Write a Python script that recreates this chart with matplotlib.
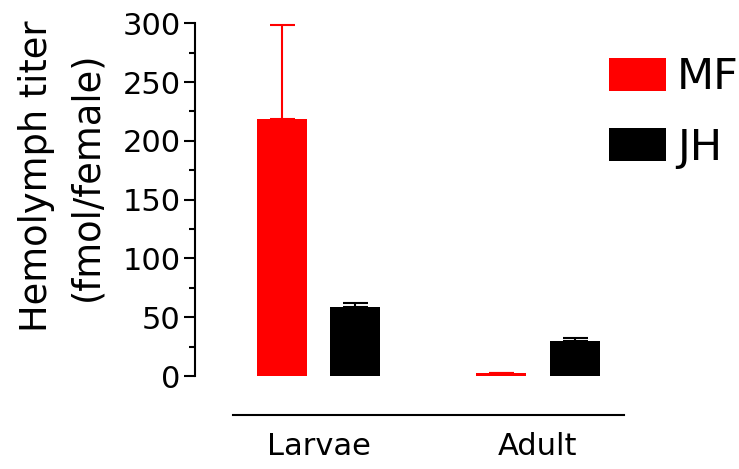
import numpy as np
import matplotlib.pyplot as plt

plt.rcParams['font.family'] = ['DejaVu Sans']

# hemolymph titers (fmol/female)
stages = ['Larvae', 'Adult']
mf_mean = [218.5, 2.8]
mf_err = [80.0, 0.0]
jh_mean = [59.0, 30.0]
jh_err = [3.0, 2.3]

fig = plt.figure(figsize=(7.39, 4.69), dpi=100)
ax = fig.add_axes([194.7 / 739, 93 / 469, (624 - 194.7) / 739, 352.7 / 469])

x = np.arange(len(stages))
w = 0.228
off = 0.1675

ax.bar(x - off, mf_mean, w, color='#ff0000', label='MF', zorder=2)
ax.bar(x + off, jh_mean, w, color='black', label='JH', zorder=2)
ax.errorbar(x - off, mf_mean, yerr=[np.zeros(2), mf_err], fmt='none',
            ecolor='#ff0000', elinewidth=1.5, capsize=9, capthick=1.5,
            clip_on=False, zorder=1)
ax.errorbar(x + off, jh_mean, yerr=[np.zeros(2), jh_err], fmt='none',
            ecolor='black', elinewidth=1.5, capsize=9, capthick=1.5,
            clip_on=False, zorder=1)

ax.set_xlim(-0.566, 1.393)
ax.set_ylim(0, 300)
ax.set_yticks(np.arange(0, 301, 50))
ax.set_yticks(np.arange(0, 301, 25), minor=True)
ax.set_xticks(x)
ax.set_xticklabels(stages)

for s in ['top', 'right']:
    ax.spines[s].set_visible(False)
ax.spines['left'].set_linewidth(1.5)
ax.spines['bottom'].set_linewidth(1.5)
ax.spines['bottom'].set_position(('outward', 28))
ax.spines['bottom'].set_bounds(-0.391, 1.393)

ax.tick_params(axis='y', which='major', length=8, width=1.5, labelsize=22, pad=2)
ax.tick_params(axis='y', which='minor', length=4, width=1.5)
ax.tick_params(axis='x', length=0, labelsize=22, pad=12)

fig.text(62 / 739, 1 - 176 / 469, 'Hemolymph titer\n(fmol/female)',
         rotation=90, ha='center', va='center', fontsize=26.5, linespacing=1.45)

ax.legend(loc='upper left', bbox_to_anchor=(609 / 739, 1 - 56 / 469),
          bbox_transform=fig.transFigure, frameon=False, fontsize=31,
          handlelength=1.33, handleheight=0.8, handletextpad=0.25,
          labelspacing=0.67, borderpad=0, borderaxespad=0)

fig.savefig('out.png', dpi=100)
